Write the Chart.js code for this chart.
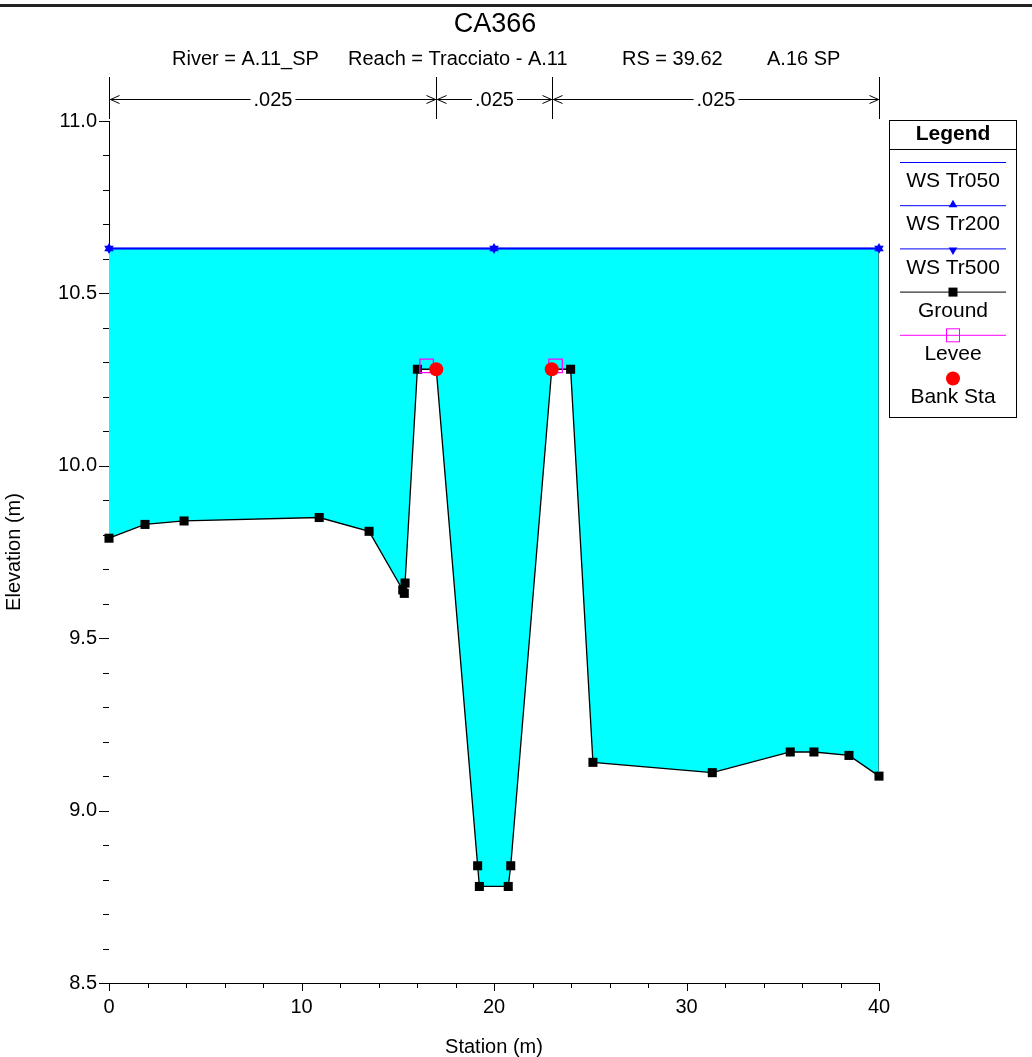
<!DOCTYPE html>
<html>
<head>
<meta charset="utf-8">
<script src="https://cdn.jsdelivr.net/npm/chart.js@4.4.1/dist/chart.umd.min.js"></script>
<style>
  html, body { margin: 0; padding: 0; background: #fff; }
  canvas { display: block; }
</style>
</head>
<body>
<canvas id="xs" width="1032" height="1057"></canvas>
<script>
/* cross section CA366 - HEC-RAS style plot */
var FONT = '"Liberation Sans", Arial, Helvetica, sans-serif';

// ground profile (station m / elevation m)
var groundSta  = [0, 1.87, 3.90, 10.92, 13.51, 15.26, 15.34, 15.38, 16.02, 17.0, 19.15, 19.24, 20.74, 20.87, 23.0, 23.98, 25.14, 31.34, 35.39, 36.62, 38.44, 40.0];
var groundElev = [9.79, 9.83, 9.84, 9.85, 9.81, 9.64, 9.63, 9.66, 10.28, 10.28, 8.84, 8.78, 8.78, 8.84, 10.28, 10.28, 9.14, 9.11, 9.17, 9.17, 9.16, 9.10];

// water surfaces
var wsSta   = [0, 20, 40];
var wsTr050 = [10.63, 10.63, 10.63];
var wsTr200 = [10.63, 10.63, 10.63];
var wsTr500 = [10.63, 10.63, 10.63];

// levees and bank stations
var leveeSta  = [16.5, 23.2];
var leveeElev = [10.29, 10.29];
var bankSta   = [17.0, 23.0];
var bankElev  = [10.28, 10.28];

// manning n breaks along the top
var nBreaks = [0, 17, 23, 40];
var nValues = ['.025', '.025', '.025'];

// axes
var xTicks = [0, 10, 20, 30, 40];
var yTicks = [8.5, 9.0, 9.5, 10.0, 10.5, 11.0];
var xMinorStep = 2;
var yMinorStep = 0.1;

var legendItems = ['WS Tr050', 'WS Tr200', 'WS Tr500', 'Ground', 'Levee', 'Bank Sta'];

function pts(xa, ya) {
  return xa.map(function (x, i) { return { x: x, y: ya[i] }; });
}

/* ---------- helpers for the extra drawing ---------- */
function line(ctx, x1, y1, x2, y2) {
  ctx.beginPath(); ctx.moveTo(x1, y1); ctx.lineTo(x2, y2); ctx.stroke();
}
function tri(ctx, x, y, r, down) {
  var s = down ? -1 : 1;
  ctx.beginPath();
  ctx.moveTo(x, y - s * r);
  ctx.lineTo(x + r * 0.866, y + s * r * 0.5);
  ctx.lineTo(x - r * 0.866, y + s * r * 0.5);
  ctx.closePath(); ctx.fill();
}

function drawHeader(chart) {
  var ctx = chart.ctx;
  ctx.save();
  ctx.fillStyle = '#222';
  ctx.fillRect(0, 4, chart.width, 3);
  ctx.fillStyle = '#000';
  ctx.textBaseline = 'middle';
  ctx.textAlign = 'center';
  ctx.font = '27px ' + FONT;
  ctx.fillText('CA366', 495, 25);
  ctx.font = '20px ' + FONT;
  ctx.textAlign = 'left';
  ctx.fillText('River = A.11_SP', 172, 59);
  ctx.fillText('Reach = Tracciato - A.11', 348, 59);
  ctx.fillText('RS = 39.62', 622, 59);
  ctx.fillText('A.16 SP', 767, 59);
  ctx.restore();
}

function drawManning(chart) {
  var ctx = chart.ctx, xs = chart.scales.x;
  var yA = 99.5, yTop = 77, yBot = 119;
  ctx.save();
  ctx.strokeStyle = '#000';
  ctx.lineWidth = 1;
  nBreaks.forEach(function (b) {
    var px = Math.round(xs.getPixelForValue(b)) + 0.5;
    line(ctx, px, yTop, px, yBot);
  });
  ctx.font = '20px ' + FONT;
  ctx.textAlign = 'center';
  ctx.textBaseline = 'middle';
  ctx.fillStyle = '#000';
  for (var i = 0; i < nValues.length; i++) {
    var x1 = Math.round(xs.getPixelForValue(nBreaks[i])) + 0.5;
    var x2 = Math.round(xs.getPixelForValue(nBreaks[i + 1])) + 0.5;
    var mid = (x1 + x2) / 2;
    var tw = ctx.measureText(nValues[i]).width;
    line(ctx, x1, yA, mid - tw / 2 - 3, yA);
    line(ctx, mid + tw / 2 + 3, yA, x2, yA);
    ctx.beginPath();
    ctx.moveTo(x1 + 10, yA - 4); ctx.lineTo(x1 + 1, yA); ctx.lineTo(x1 + 10, yA + 4);
    ctx.moveTo(x2 - 10, yA - 4); ctx.lineTo(x2 - 1, yA); ctx.lineTo(x2 - 10, yA + 4);
    ctx.stroke();
    ctx.fillText(nValues[i], mid, yA + 1);
  }
  ctx.restore();
}

function drawTicks(chart) {
  var ctx = chart.ctx, xs = chart.scales.x, ys = chart.scales.y;
  var area = chart.chartArea;
  ctx.save();
  ctx.strokeStyle = '#000';
  ctx.lineWidth = 1;
  var n = Math.round((ys.max - ys.min) / yMinorStep);
  for (var i = 0; i <= n; i++) {
    var py = Math.round(ys.getPixelForValue(ys.min + i * yMinorStep)) + 0.5;
    var len = (i % 5 === 0) ? 10 : 6;
    line(ctx, area.left - len, py, area.left, py);
  }
  var m = Math.round((xs.max - xs.min) / xMinorStep);
  for (var j = 0; j <= m; j++) {
    var px = Math.round(xs.getPixelForValue(xs.min + j * xMinorStep)) + 0.5;
    var l2 = (j % 5 === 0) ? 8 : 5;
    line(ctx, px, area.bottom, px, area.bottom + l2);
  }
  // axis titles
  ctx.fillStyle = '#000';
  ctx.font = '20px ' + FONT;
  ctx.textAlign = 'center';
  ctx.textBaseline = 'middle';
  ctx.fillText('Station (m)', (area.left + area.right) / 2, 1047);
  ctx.translate(14, (area.top + area.bottom) / 2);
  ctx.rotate(-Math.PI / 2);
  ctx.fillText('Elevation (m)', 0, 0);
  ctx.restore();
}

function drawWaterEdge(chart) {
  // thin edge at the right limit of the water
  var ctx = chart.ctx, xs = chart.scales.x, ys = chart.scales.y;
  var last = groundSta.length - 1;
  var px = Math.round(xs.getPixelForValue(groundSta[last])) - 0.5;
  ctx.save();
  ctx.strokeStyle = '#2a8f8f';
  ctx.lineWidth = 1;
  line(ctx, px, ys.getPixelForValue(wsTr050[wsTr050.length - 1]) + 4, px, ys.getPixelForValue(groundElev[last]) - 5);
  ctx.restore();
}

function drawLegendBox(chart) {
  var ctx = chart.ctx;
  var L = 889.5, T = 120.5, W = 127, H = 297;
  var x1 = 900, x2 = 1006, cx = (x1 + x2) / 2;
  ctx.save();
  ctx.fillStyle = '#fff';
  ctx.fillRect(L, T, W, H);
  ctx.strokeStyle = '#000';
  ctx.lineWidth = 1;
  ctx.strokeRect(L, T, W, H);
  line(ctx, L, 149.5, L + W, 149.5);
  ctx.fillStyle = '#000';
  ctx.textAlign = 'center';
  ctx.textBaseline = 'middle';
  ctx.font = 'bold 21px ' + FONT;
  ctx.fillText('Legend', cx, 134);
  ctx.font = '21px ' + FONT;
  var step = 43.2, y0 = 162.5;
  legendItems.forEach(function (name, i) {
    var ly = y0 + i * step;
    ctx.lineWidth = 1;
    if (i < 3) {
      ctx.strokeStyle = '#0000ff';
      line(ctx, x1, ly, x2, ly);
      ctx.fillStyle = '#0000ff';
      if (i === 1) tri(ctx, cx, ly - 1, 5, false);
      if (i === 2) tri(ctx, cx, ly + 1, 5, true);
    } else if (i === 3) {
      ctx.strokeStyle = '#000';
      line(ctx, x1, ly, x2, ly);
      ctx.fillStyle = '#000';
      ctx.fillRect(cx - 4.5, ly - 4.5, 9, 9);
    } else if (i === 4) {
      ctx.strokeStyle = '#ff00ff';
      line(ctx, x1, ly, x2, ly);
      ctx.strokeRect(cx - 6.5, ly - 6.5, 13, 13);
    } else {
      ctx.fillStyle = '#ff0000';
      ctx.beginPath(); ctx.arc(cx, ly, 7, 0, Math.PI * 2); ctx.fill();
    }
    ctx.fillStyle = '#000';
    ctx.fillText(name, cx, ly + 19);
  });
  ctx.restore();
}

var extras = {
  id: 'extras',
  afterDraw: function (chart) {
    drawWaterEdge(chart);
    drawHeader(chart);
    drawManning(chart);
    drawTicks(chart);
    drawLegendBox(chart);
  }
};

var tickFont = { family: FONT, size: 20 };

new Chart(document.getElementById('xs'), {
  type: 'scatter',
  data: {
    datasets: [
      {
        label: 'Bank Sta', data: pts(bankSta, bankElev), order: 0, showLine: false, clip: false,
        pointStyle: 'circle', pointRadius: 7, pointBackgroundColor: '#ff0000', pointBorderWidth: 0
      },
      {
        label: 'Levee', data: pts(leveeSta, leveeElev), order: 1, showLine: false, clip: false,
        pointStyle: 'rect', pointRadius: 9.5, pointBackgroundColor: 'rgba(0,0,0,0)',
        pointBorderColor: '#ff00ff', pointBorderWidth: 1.3
      },
      {
        label: 'Ground', data: pts(groundSta, groundElev), order: 2, showLine: true, clip: false,
        borderColor: '#000', borderWidth: 1.3, fill: 'start', backgroundColor: '#ffffff',
        pointStyle: 'rect', pointRadius: 6.4, pointBackgroundColor: '#000', pointBorderWidth: 0
      },
      {
        label: 'WS Tr500', data: pts(wsSta, wsTr500), order: 3, showLine: true, clip: false,
        borderColor: '#0000ff', borderWidth: 1.5, fill: false,
        pointStyle: 'triangle', pointRotation: 180, pointRadius: 5.5,
        pointBackgroundColor: '#0000ff', pointBorderWidth: 0
      },
      {
        label: 'WS Tr200', data: pts(wsSta, wsTr200), order: 4, showLine: true, clip: false,
        borderColor: '#0000ff', borderWidth: 1.5, fill: false,
        pointStyle: 'triangle', pointRadius: 5.5,
        pointBackgroundColor: '#0000ff', pointBorderWidth: 0
      },
      {
        label: 'WS Tr050', data: pts(wsSta, wsTr050), order: 5, showLine: true,
        borderColor: '#0000ff', borderWidth: 1.5, fill: 'start', backgroundColor: '#00ffff',
        pointRadius: 0
      }
    ]
  },
  options: {
    responsive: false,
    animation: false,
    devicePixelRatio: 1,
    layout: { padding: { left: 0, top: 121, right: 153, bottom: 0 } },
    plugins: {
      legend: { display: false },
      tooltip: { enabled: false },
      title: { display: false }
    },
    elements: { line: { tension: 0 } },
    scales: {
      x: {
        type: 'linear', min: 0, max: 40, z: 1,
        grid: { display: false, drawTicks: true, tickLength: 8 },
        border: { display: true, color: '#000', width: 1 },
        afterBuildTicks: function (s) { s.ticks = xTicks.map(function (v) { return { value: v }; }); },
        afterFit: function (s) { s.height = 74; },
        ticks: { color: '#000', font: tickFont, padding: 4, maxRotation: 0,
          callback: function (v) { return String(v); } }
      },
      y: {
        type: 'linear', min: 8.5, max: 11.0, z: 1,
        grid: { display: false, drawTicks: true, tickLength: 10 },
        border: { display: true, color: '#000', width: 1 },
        afterBuildTicks: function (s) { s.ticks = yTicks.map(function (v) { return { value: v }; }); },
        afterFit: function (s) { s.width = 109; },
        ticks: { color: '#000', font: tickFont, padding: 2,
          callback: function (v) { return Number(v).toFixed(1); } }
      }
    }
  },
  plugins: [extras]
});
</script>
</body>
</html>
